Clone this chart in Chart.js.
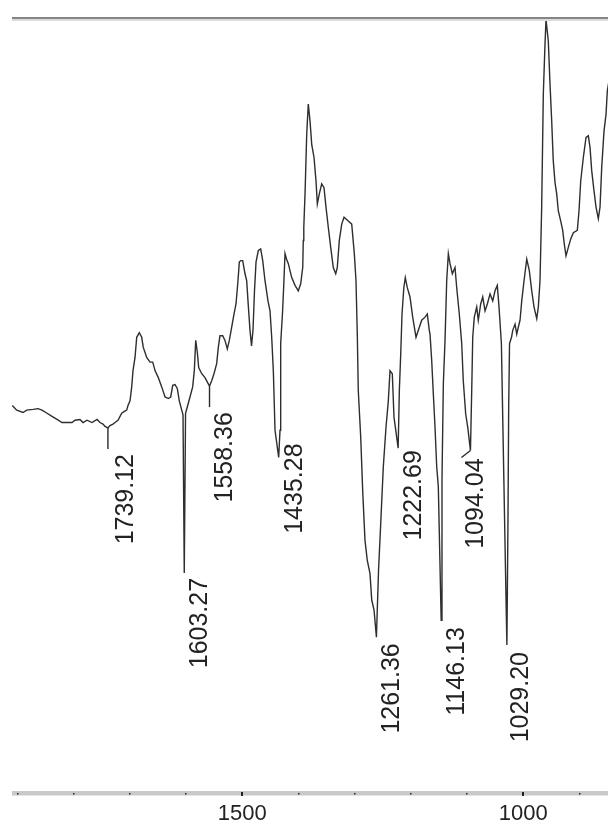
<!DOCTYPE html>
<html>
<head>
<meta charset="utf-8">
<script src="https://cdn.jsdelivr.net/npm/chart.js@4/dist/chart.umd.min.js"></script>
<style>
html,body{margin:0;padding:0;background:#fff;overflow:hidden;}
#wrap{width:608px;height:825px;position:relative;}
canvas{display:block;}
</style>
</head>
<body>
<div id="wrap"><canvas id="c" width="608" height="825"></canvas></div>
<script>
// ---- data (wavenumber cm-1, transmittance-like units 0..100) ----
const wavenumbers = [
1909.3,1901.4,1890.2,1883.6,1872.4,1863.5,1856.4,1847.5,1838.6,1829.7,1820.8,1811.9,1803.0,1797.7,1788.8,1783.5,1776.3,1767.4,1758.5,1753.2,
1747.9,1744.3,1739.12,1735.4,1730.1,1726.5,1721.2,1714.6,1710.5,1705.7,1703.4,1699.8,1696.8,1694.5,1690.9,1687.9,1683.3,1679.0,1676.2,1670.1,
1664.2,1659.4,1655.3,1649.5,1643.4,1637.5,1631.7,1627.4,1623.8,1619.8,1615.7,1612.1,1607.8,1605.5,1603.27,1601.0,1597.9,1593.1,1588.3,1585.4,
1582.9,1580.1,1577.6,1572.2,1566.4,1560.5,1558.36,1554.5,1550.4,1545.6,1542.7,1539.7,1534.9,1530.8,1526.7,1523.1,1518.9,1514.8,1511.2,1507.7,
1505.3,1502.8,1499.3,1495.2,1492.2,1489.9,1486.3,1483.6,1481.0,1478.3,1475.6,1471.5,1467.3,1463.7,1459.6,1454.3,1450.7,1447.7,1444.8,1441.8,
1435.28,1432.9,1431.7,1428.5,1426.7,1424.0,1421.4,1418.1,1412.1,1406.2,1400.4,1396.1,1392.5,1391.5,1390.6,1388.4,1385.4,1382.6,1379.5,1376.5,
1372.4,1368.9,1366.5,1363.0,1358.7,1354.6,1351.1,1347.0,1342.7,1338.1,1333.8,1331.0,1327.4,1323.1,1319.0,1311.4,1305.3,1300.7,1297.7,1295.4,
1293.6,1289.3,1285.8,1281.7,1277.6,1272.8,1269.7,1265.6,1261.36,1257.6,1253.7,1249.1,1244.3,1240.2,1237.2,1233.1,1230.1,1222.69,1220.6,1218.1,
1215.8,1212.6,1210.0,1206.4,1201.6,1196.8,1190.9,1186.8,1180.8,1174.9,1170.8,1167.3,1166.0,1163.0,1160.1,1157.1,1154.1,1151.2,1146.13,1144.7,
1142.3,1139.3,1136.3,1133.4,1130.4,1126.3,1121.5,1118.5,1113.9,1109.6,1106.8,1102.5,1098.9,1094.04,1091.8,1090.0,1087.2,1082.9,1080.1,1075.8,
1072.2,1068.1,1064.0,1059.2,1054.4,1050.3,1046.3,1043.2,1039.0,1034.5,1031.5,1029.20,1027.3,1026.0,1024.5,1021.0,1018.8,1014.7,1011.7,1008.9,
1005.8,1002.8,998.7,993.9,989.3,985.0,980.9,976.1,973.3,970.3,967.3,964.4,961.4,959.6,957.9,955.5,952.5,949.5,946.7,943.6,
940.6,937.7,933.4,929.9,927.0,924.0,919.9,915.6,911.0,903.9,900.9,897.8,893.2,888.4,884.3,881.3,878.3,874.2,870.6,866.5,
863.5,860.5,856.4,852.8,850.5,847.5
];
const transmittance = [
50.0,49.4,49.1,49.4,49.5,49.6,49.4,49.0,48.6,48.2,47.8,47.8,47.8,48.1,48.2,47.8,48.1,47.8,48.2,47.8,
47.6,47.3,47.1,47.4,47.6,47.8,48.1,49.0,49.2,49.4,50.0,50.6,52.4,54.5,56.2,58.8,59.4,58.8,57.5,56.2,
55.6,55.6,54.5,53.6,52.4,51.1,50.9,51.1,52.6,52.7,52.2,50.6,49.4,48.8,28.4,49.0,49.8,51.1,52.4,54.5,
58.4,56.9,54.9,54.1,53.6,52.8,52.5,53.2,54.1,55.4,57.5,59.0,59.0,58.4,57.3,58.4,60.1,61.8,63.1,66.1,
68.5,68.7,68.7,67.0,66.1,63.5,59.7,57.7,59.7,64.8,68.5,70.0,70.2,68.7,66.1,63.5,62.2,58.8,54.5,46.8,
43.3,46.8,58.0,61.9,64.8,69.6,68.9,68.3,66.5,65.5,64.8,65.7,67.8,71.3,73.0,77.3,85.0,88.9,86.7,83.7,
82.0,79.0,76.0,77.3,78.6,78.1,75.6,73.0,70.4,67.8,67.0,67.8,71.3,73.4,74.3,73.8,73.4,69.6,66.1,59.2,
51.9,45.9,39.0,32.6,30.0,28.3,24.9,23.6,20.1,28.7,34.8,42.1,47.2,50.6,54.5,54.1,48.5,44.5,51.9,56.7,
61.8,65.2,66.5,65.2,64.0,61.4,58.8,59.7,61.0,61.4,61.8,59.7,59.2,55.8,51.5,47.2,42.1,39.5,22.3,40.3,
52.8,58.4,66.1,69.6,68.3,67.0,67.8,65.2,61.8,58.0,53.2,48.9,47.2,44.2,51.9,58.8,61.4,62.7,61.0,63.1,
64.0,62.2,63.1,64.4,63.5,64.8,65.5,62.7,58.0,40.0,28.0,19.1,35.0,50.0,58.0,58.8,59.7,60.5,59.2,60.1,
61.0,63.5,66.1,68.9,67.4,64.8,62.7,61.2,62.7,66.1,75.6,90.2,96.6,99.8,99.8,97.0,91.5,86.7,81.6,78.8,
77.3,75.1,73.8,72.6,70.8,69.3,70.4,71.5,72.3,72.6,75.1,79.0,82.0,84.6,84.8,83.3,80.3,77.7,75.6,74.1,
75.6,80.7,85.4,87.6,90.6,91.9
];
const peakWavenumbers = [1739.12,1603.27,1558.36,1435.28,1261.36,1222.69,1146.13,1094.04,1029.20];
const peakLabels = ['1739.12','1603.27','1558.36','1435.28','1261.36','1222.69','1146.13','1094.04','1029.20'];
const tickValues = [900,1000,1100,1200,1300,1400,1500,1600,1700,1800,1900];
const labeledTicks = [1500,1000];
const tickLabels = ['1500','1000'];

// ---- layout / style (pixels) ----
const labelGap = [26,5,26,-14,6,2,7,8,7];     // text top below peak minimum
const labelDx  = [18,16,16,16,16,16,16,6,14];  // text centre right of peak
const hookDx   = [0,0,0,0,0,0,0,-9,0];         // slanted leader end offset

const points = wavenumbers.map((w,i)=>({x:w,y:transmittance[i]}));

const decor = {
  id:'decor',
  afterDraw(chart){
    const ctx = chart.ctx, a = chart.chartArea;
    const xs = chart.scales.x, ys = chart.scales.y;
    ctx.save();
    // top frame line
    ctx.fillStyle = '#858585';
    ctx.fillRect(a.left, a.top-1, a.right-a.left, 2);
    ctx.fillStyle = '#dcdcdc';
    ctx.fillRect(a.left, a.top+1, a.right-a.left, 2);
    // bottom axis band
    ctx.fillStyle = '#c9c9c9';
    ctx.fillRect(a.left, a.bottom-2, a.right-a.left, 4);
    ctx.fillStyle = '#e2e2e2';
    ctx.fillRect(a.left, a.bottom+2, a.right-a.left, 1);
    // ticks
    ctx.fillStyle = '#222';
    tickValues.forEach(v=>{
      const px = xs.getPixelForValue(v);
      if (px < a.left || px > a.right) return;
      if (labeledTicks.includes(v)) ctx.fillRect(Math.round(px)-1, a.bottom-1, 2, 4);
      else ctx.fillRect(Math.round(px)-1, a.bottom, 1.5, 1.5);
    });
    // tick labels
    ctx.font = '22px "Liberation Sans", Arial, sans-serif';
    ctx.fillStyle = '#222';
    ctx.textAlign = 'center';
    ctx.textBaseline = 'top';
    labeledTicks.forEach((v,i)=>{
      ctx.fillText(tickLabels[i], xs.getPixelForValue(v), a.bottom+10);
    });
    // peak labels
    ctx.strokeStyle = '#2a2a2a';
    ctx.lineWidth = 1.4;
    ctx.font = '25px "Liberation Sans", Arial, sans-serif';
    peakWavenumbers.forEach((w,i)=>{
      const idx = wavenumbers.indexOf(w);
      const px = xs.getPixelForValue(w);
      const py = ys.getPixelForValue(transmittance[idx]);
      const top = py + labelGap[i];
      if (labelGap[i] > 10) {
        ctx.beginPath();
        ctx.moveTo(px, py);
        ctx.lineTo(px, top - 5);
        ctx.stroke();
      }
      if (hookDx[i]) {
        ctx.beginPath();
        ctx.moveTo(px, py);
        ctx.lineTo(px + hookDx[i], py + 7);
        ctx.stroke();
      }
      ctx.save();
      ctx.translate(px + labelDx[i], top);
      ctx.rotate(-Math.PI/2);
      ctx.textAlign = 'right';
      ctx.textBaseline = 'middle';
      ctx.fillStyle = '#222';
      ctx.fillText(peakLabels[i], 0, 0);
      ctx.restore();
    });
    ctx.restore();
  }
};

new Chart(document.getElementById('c'), {
  type:'line',
  data:{datasets:[{data:points, borderColor:'#2e2e2e', borderWidth:1.4, pointRadius:0, tension:0, fill:false}]},
  options:{
    responsive:false, animation:false, parsing:true,
    layout:{padding:{left:12,right:0,top:18,bottom:32}},
    plugins:{legend:{display:false},tooltip:{enabled:false}},
    scales:{
      x:{type:'linear', reverse:true, min:849.3, max:1909.8, display:false},
      y:{type:'linear', min:0, max:100, display:false}
    }
  },
  plugins:[decor]
});
</script>
</body>
</html>
